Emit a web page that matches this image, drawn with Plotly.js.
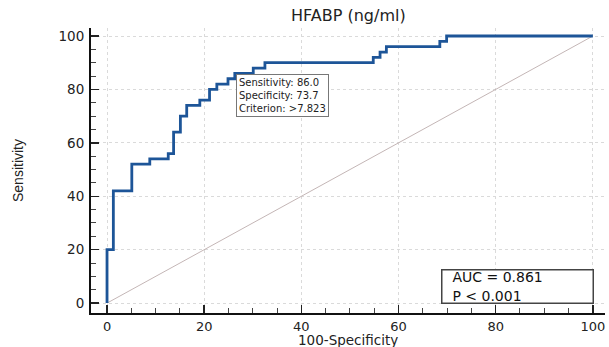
<!DOCTYPE html>
<html>
<head>
<meta charset="utf-8">
<script src="https://cdn.plot.ly/plotly-3.0.1.min.js"></script>
<style>html,body{margin:0;padding:0;background:#fff}#chart{width:609px;height:347px}</style>
</head>
<body>
<div id="chart"></div>
<script>
// ROC curve vertices: 100-Specificity (x) where each rise occurs, Sensitivity after rise (y)
const fpr = [0, 0, 1.3, 5.1, 8.8, 12.6, 13.7, 15.1, 16.4, 19.1, 21.1, 22.6, 24.9, 26.3, 30.1, 32.5, 54.8, 56.2, 57.5, 68.5, 69.9, 100];
const tpr = [0, 20, 42, 52, 54, 56, 64, 70, 74, 76, 80, 82, 84, 86, 88, 90, 92, 94, 96, 98, 100, 100];
const diagX = [0, 100];
const diagY = [0, 100];
const tickVals = [0, 20, 40, 60, 80, 100];
const tickText = ["0", "20", "40", "60", "80", "100"];
const cutoff = {x: 26.3, y: 86, sens: "86.0", spec: "73.7", crit: ">7.823"};
const stats = {auc: "0.861", p: "< 0.001"};
const xTitle = "100-Specificity";
const yTitle = "Sensitivity";
const chartTitle = "HFABP (ng/ml)";

const wide = "'DejaVu Sans', Verdana, sans-serif";
const arial = "Arial, 'Liberation Sans', sans-serif";

const traces = [
  {x: diagX, y: diagY, mode: "lines", line: {color: "#c4b6b6", width: 1}, hoverinfo: "skip"},
  {x: fpr, y: tpr, mode: "lines", line: {color: "#1d5598", width: 2.8, shape: "hv"}, hoverinfo: "skip"}
];

const axisCommon = {
  tickmode: "array", tickvals: tickVals, ticktext: tickText,
  ticks: "inside", ticklen: 8, tickwidth: 1.5, tickcolor: "#222",
  showline: true, linecolor: "#111", linewidth: 2,
  showgrid: true, gridcolor: "#dadada", griddash: "dot", gridwidth: 1,
  zeroline: false,
  tickfont: {family: wide, size: 13, color: "#222"},
  minor: {dtick: 5, ticks: "inside", ticklen: 5, tickcolor: "#444", tickwidth: 1, showgrid: false}
};

const layout = {
  width: 609, height: 347,
  margin: {l: 91, r: 4, t: 28, b: 34},
  paper_bgcolor: "#fff", plot_bgcolor: "#fff",
  showlegend: false,
  title: {text: chartTitle, font: {family: wide, size: 16, color: "#222"}, x: 0.572, xanchor: "center", y: 0.972, yanchor: "top"},
  xaxis: Object.assign({}, axisCommon, {range: [-3.3, 102.5]}),
  yaxis: Object.assign({}, axisCommon, {range: [-3.7, 103], tickfont: {family: wide, size: 13.5, color: "#222"}, ticklabelstandoff: 2,
    title: {text: yTitle, font: {family: arial, size: 14, color: "#222"}, standoff: 32}}),
  annotations: [
    {x: 0.5, y: 0, xref: "paper", yref: "paper", xanchor: "center", yanchor: "middle", yshift: -27,
     text: xTitle, showarrow: false, font: {family: wide, size: 13.5, color: "#222"}},
    {x: cutoff.x, y: cutoff.y, xref: "x", yref: "y", xanchor: "left", yanchor: "top", xshift: 1, yshift: -1,
     text: "Sensitivity: " + cutoff.sens + "<br>Specificity: " + cutoff.spec + "<br>Criterion: " + cutoff.crit.replace(">", "&gt;"),
     showarrow: false, align: "left", bgcolor: "#fff", bordercolor: "#777", borderwidth: 1, borderpad: 2,
     font: {family: wide, size: 10, color: "#222"}},
    {x: 0.681, y: 0.032, xref: "paper", yref: "paper", xanchor: "left", yanchor: "bottom",
     text: "&nbsp;&nbsp;AUC = " + stats.auc + "<br>&nbsp;&nbsp;P " + stats.p.replace("<", "&lt;"),
     showarrow: false, align: "left", width: 148, height: 30, bgcolor: "#fff", bordercolor: "#444", borderwidth: 1.5, borderpad: 1,
     font: {family: wide, size: 14, color: "#111"}}
  ]
};

Plotly.newPlot("chart", traces, layout, {displayModeBar: false, staticPlot: true});
</script>
</body>
</html>
